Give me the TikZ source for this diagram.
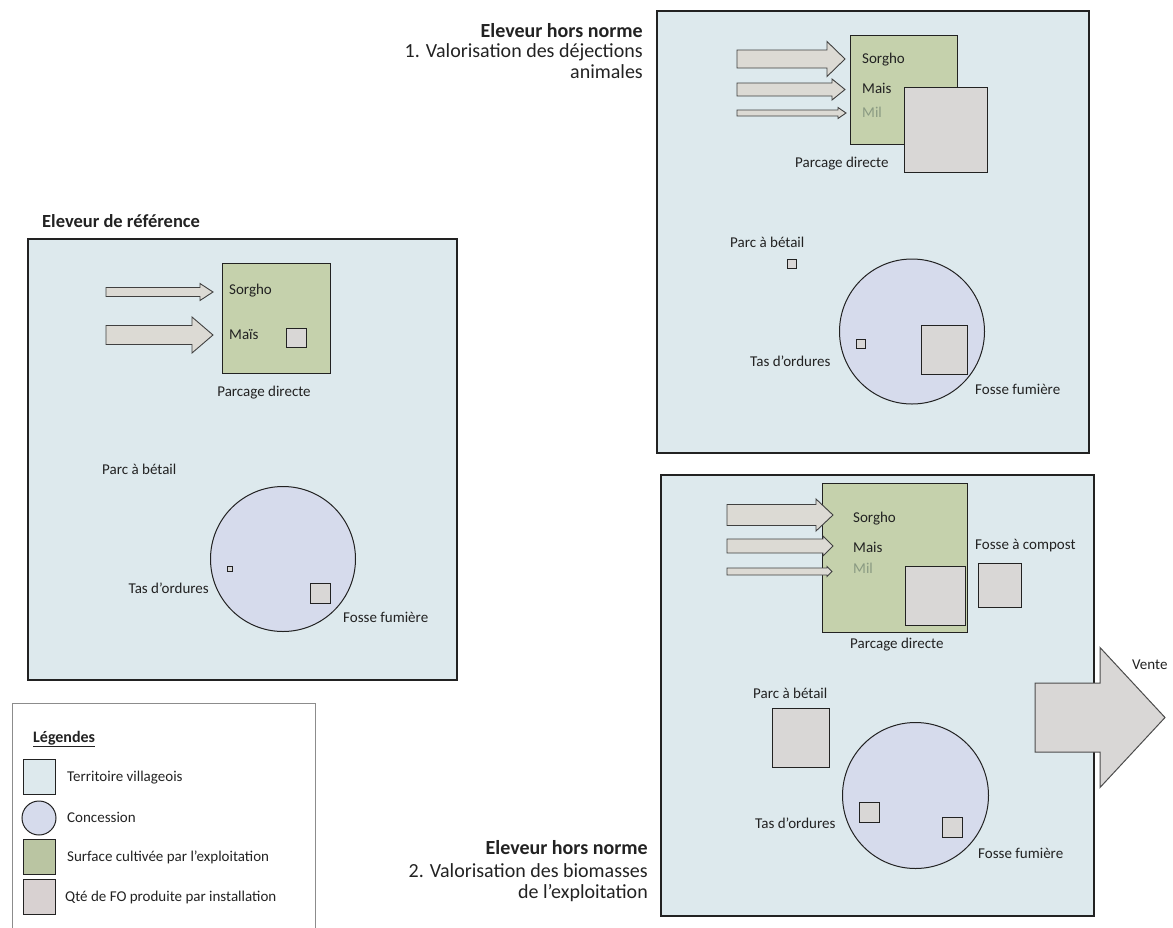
\documentclass[tikz,border=0pt]{standalone}
\usepackage{fontspec}
\setmainfont{Carlito}
\definecolor{terr}{HTML}{DDE9ED}
\definecolor{crop}{HTML}{C5D1AC}
\definecolor{cropdark}{HTML}{BAC5A2}
\definecolor{concc}{HTML}{D6DBEC}
\definecolor{fo}{HTML}{D9D7D6}
\definecolor{foleg}{HTML}{D8D1D1}
\definecolor{arrowc}{HTML}{DCDAD4}
\definecolor{milc}{HTML}{8A9A82}
\definecolor{inkc}{HTML}{222222}
% block arrow: start x, tip x, centre y, shaft half-height, head half-height, head length
\newcommand{\flowarrow}[7][]{%
  \path[flow,#1] (#2,#4-#5) -- (#3-#7,#4-#5) -- (#3-#7,#4-#6) -- (#3,#4)
    -- (#3-#7,#4+#6) -- (#3-#7,#4+#5) -- (#2,#4+#5) -- cycle;}
\begin{document}
\begin{tikzpicture}[x=1pt,y=-1pt,
  panel/.style={draw=inkc, line width=1.2pt, fill=terr},
  field/.style={draw=inkc, line width=1pt, fill=crop},
  conc/.style={draw=inkc, line width=1pt, fill=concc},
  heap/.style={draw=inkc, line width=1pt, fill=fo},
  flow/.style={draw=black!75, line width=0.9pt, fill=arrowc, line join=miter},
  lbl/.style={font=\fontsize{15}{18}\selectfont, inner sep=0pt, text=inkc},
  ttl/.style={font=\fontsize{20}{24}\selectfont, inner sep=0pt, text=inkc},
  ttlb/.style={font=\fontsize{20}{24}\selectfont\bfseries, inner sep=0pt, text=inkc}]
\useasboundingbox (0,0) rectangle (1173,927);

% ---------- reference breeder ----------
\node[ttlb, anchor=base west, font=\fontsize{18.5}{22}\selectfont\bfseries] (t0) at (42,227) {Eleveur de référence};
\path[panel] (28,239) rectangle (457,680);
\path[field] (222,263) rectangle (330,373);
\flowarrow{106}{213}{292}{4.5}{8.5}{13}
\flowarrow{106}{213}{335}{9.5}{18}{21}
\node[lbl, anchor=base west] (a-sorgho) at (229,294) {Sorgho};
\node[lbl, anchor=base west] (a-mais) at (229,339) {Maïs};
\path[heap] (286,328) rectangle (306,347);
\node[lbl, anchor=base] (a-parcage) at (264,396) {Parcage directe};
\node[lbl, anchor=base west] (a-parc) at (102,474) {Parc à bétail};
\path[conc] (283,559) circle (72.5);
\path[heap, line width=0.8pt] (227,566) rectangle (232,571);
\node[lbl, anchor=base east] (a-tas) at (209,593) {Tas d’ordures};
\path[heap] (310,583) rectangle (330,603);
\node[lbl, anchor=base west] (a-fosse) at (343,622) {Fosse fumière};

% ---------- legend ----------
\draw[black!45, line width=0.8pt] (12,930) -- (12,703) -- (315,703) -- (315,930);
\node[lbl, anchor=base west, font=\fontsize{16}{19}\selectfont\bfseries] (leg) at (33,742) {\underline{Légendes}};
\path[panel, line width=1pt, fill=terr] (23,759) rectangle (55,794);
\node[lbl, anchor=base west] (leg1) at (67,781) {Territoire villageois};
\path[conc] (39,818) circle (17);
\node[lbl, anchor=base west] (leg2) at (67,822) {Concession};
\path[field, fill=cropdark] (23,839) rectangle (55,874);
\node[lbl, anchor=base west] (leg3) at (67,861) {Surface cultivée par l’exploitation};
\path[heap, fill=foleg] (23,879) rectangle (55,914);
\node[lbl, anchor=base west] (leg4) at (65,901) {Qté de FO produite par installation};

% ---------- outstanding breeder 1 ----------
\node[ttlb, anchor=base east] (t1a) at (643,37) {Eleveur hors norme};
\node[ttl, anchor=base east] (t1b) at (643,57) {1. Valorisation des déjections};
\node[ttl, anchor=base east] (t1c) at (643,78) {animales};
\path[panel] (657,11) rectangle (1089,453);
\path[field] (850,35) rectangle (957,144);
\flowarrow{737}{845}{59}{9}{17.5}{18}
\flowarrow{737}{845}{89.5}{6.5}{10.5}{13}
\flowarrow{737}{846}{113}{3}{5.5}{8}
\node[lbl, anchor=base west] (b-sorgho) at (862,63) {Sorgho};
\node[lbl, anchor=base west] (b-mais) at (862,93) {Mais};
\node[lbl, anchor=base west, text=milc] (b-mil) at (862,117) {Mil};
\path[heap] (904,87) rectangle (987,172);
\node[lbl, anchor=base west] (b-parcage) at (795,167) {Parcage directe};
\node[lbl, anchor=base west] (b-parc) at (730,247) {Parc à bétail};
\path[heap] (787,259) rectangle (796,268);
\path[conc] (912,331.5) circle (72.5);
\path[heap] (856,339) rectangle (865,348);
\node[lbl, anchor=base west] (b-tas) at (750,366) {Tas d’ordures};
\path[heap] (921,325) rectangle (967,374);
\node[lbl, anchor=base west] (b-fosse) at (975,394) {Fosse fumière};

% ---------- outstanding breeder 2 ----------
\path[panel] (661,475) rectangle (1094,916);
\path[field] (822,483) rectangle (967,632);
\flowarrow{727}{833}{515}{10.5}{16}{17}
\flowarrow{727}{833}{546}{7}{10}{10}
\flowarrow{727}{832}{571.5}{3.5}{5}{5}
\node[lbl, anchor=base west] (c-sorgho) at (853,522) {Sorgho};
\node[lbl, anchor=base west] (c-mais) at (853,552) {Mais};
\node[lbl, anchor=base west, text=milc] (c-mil) at (853,573) {Mil};
\path[heap] (905,566) rectangle (965,625);
\node[lbl, anchor=base west] (c-compost) at (975,549) {Fosse à compost};
\path[heap] (978,563) rectangle (1021,607);
\node[lbl, anchor=base west] (c-parcage) at (850,648) {Parcage directe};
\node[lbl, anchor=base west] (c-parc) at (753,698) {Parc à bétail};
\path[heap] (772,708) rectangle (829,767);
\path[conc] (915.5,795.5) circle (73);
\path[heap] (859,802) rectangle (879,822);
\path[heap] (942,817) rectangle (962,837);
\node[lbl, anchor=base west] (c-tas) at (755,828) {Tas d’ordures};
\node[lbl, anchor=base west] (c-fosse) at (978,858) {Fosse fumière};
\flowarrow[fill=fo, draw=black!70, line width=1pt]{1035}{1165}{717.5}{34.5}{70}{65}
\node[lbl, anchor=base west] (c-vente) at (1132,669) {Vente};
\node[ttlb, anchor=base east] (t2a) at (648,854) {Eleveur hors norme};
\node[ttl, anchor=base east] (t2b) at (648,877) {2. Valorisation des biomasses};
\node[ttl, anchor=base east] (t2c) at (648,898) {de l’exploitation};
\end{tikzpicture}
\end{document}
